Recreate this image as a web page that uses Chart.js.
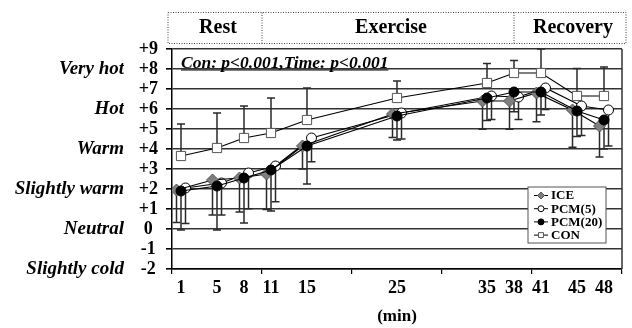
<!DOCTYPE html>
<html><head><meta charset="utf-8">
<script src="https://cdn.jsdelivr.net/npm/chart.js@4.4.1/dist/chart.umd.min.js"></script>
<style>html,body{margin:0;padding:0;background:#fff}#wrap{width:632px;height:328px}</style>
</head><body><div id="wrap"><canvas id="c" width="632" height="328"></canvas></div>
<script>
// ---- data ----
const TIMES = [1, 5, 8, 11, 15, 25, 35, 38, 41, 45, 48];
const X_TICK_LABELS = ['1', '5', '8', '11', '15', '25', '35', '38', '41', '45', '48'];
const SENSATION_VALUES = [-2, 0, 2, 4, 6, 8];
const SENSATION_LABELS = ['Slightly cold', 'Neutral', 'Slightly warm', 'Warm', 'Hot', 'Very hot'];
const PHASES = ['Rest', 'Exercise', 'Recovery'];
const PHASE_BOUNDS = [0, 10, 38, 50];
const STATS_TEXT = 'Con: p<0.001,Time: p<0.001';

const ICE      = [1.95, 2.45, 2.55, 2.75, 4.15, 5.75, 6.40, 6.40, 6.80, 5.95, 5.15];
const ICE_SD   = [1.63, 1.75, 1.70, 1.77, 1.15, 1.17, 1.41, 1.41, 1.44, 1.86, 1.55];
const PCM5     = [2.05, 2.30, 2.80, 3.15, 4.55, 5.80, 6.65, 6.60, 7.05, 6.15, 5.95];
const PCM5_SD  = [1.77, 1.60, 1.79, 1.79, 1.19, 1.30, 1.17, 1.12, 1.08, 1.48, 1.80];
const PCM20    = [1.90, 2.15, 2.55, 2.95, 4.15, 5.65, 6.55, 6.85, 6.85, 5.90, 5.45];
const PCM20_SD = [1.95, 2.20, 2.25, 2.05, 1.90, 1.20, 1.12, 0.99, 1.15, 1.28, 1.45];
const CON      = [3.65, 4.05, 4.55, 4.80, 5.45, 6.55, 7.30, 7.80, 7.80, 6.65, 6.65];
const CON_SD   = [1.60, 1.75, 1.60, 1.75, 1.60, 0.85, 0.97, 0.63, 1.20, 1.37, 1.45];

// small horizontal jitter (minutes) so overlapping series stay visible
const SHIFT = { ICE: -0.5, PCM5: 0.5, PCM20: 0, CON: 0 };

const FONT = '"Liberation Serif", "Times New Roman", serif';

function pts(vals, shift) { return TIMES.map((t, i) => ({ x: t + shift, y: vals[i] })); }

const errorBars = {
  id: 'errorBars',
  beforeDatasetsDraw(chart) {
    const ctx = chart.ctx, ys = chart.scales.y;
    chart.data.datasets.forEach((ds, i) => {
      const meta = chart.getDatasetMeta(i);
      ctx.save();
      ctx.strokeStyle = '#2a2a2a'; ctx.lineWidth = 1.5;
      meta.data.forEach((pt, j) => {
        const v = ds.data[j].y + ds.errors[j] * ds.errorDir;
        const y2 = ys.getPixelForValue(v);
        ctx.beginPath();
        ctx.moveTo(pt.x, pt.y); ctx.lineTo(pt.x, y2);
        ctx.moveTo(pt.x - 4, y2); ctx.lineTo(pt.x + 4, y2);
        ctx.stroke();
      });
      ctx.restore();
    });
  }
};

const decor = {
  id: 'decor',
  afterDraw(chart) {
    const ctx = chart.ctx, a = chart.chartArea, xs = chart.scales.x;
    ctx.save();
    // right frame
    ctx.strokeStyle = '#333'; ctx.lineWidth = 1.5;
    ctx.beginPath(); ctx.moveTo(a.right, a.top); ctx.lineTo(a.right, a.bottom); ctx.stroke();

    // header boxes
    const top = 12.5, bot = 43.5;
    const edges = PHASE_BOUNDS.map(v => xs.getPixelForValue(v));
    edges[0] -= 4; edges[edges.length - 1] += 4;
    ctx.setLineDash([1, 1.5]); ctx.lineWidth = 1; ctx.strokeStyle = '#444';
    ctx.strokeRect(edges[0], top, edges[3] - edges[0], bot - top);
    ctx.beginPath();
    for (let k = 1; k < edges.length - 1; k++) { ctx.moveTo(edges[k], top); ctx.lineTo(edges[k], bot); }
    ctx.stroke();
    ctx.setLineDash([]);
    ctx.fillStyle = '#000'; ctx.font = 'bold 20px ' + FONT;
    ctx.textAlign = 'center'; ctx.textBaseline = 'middle';
    PHASES.forEach((p, k) => ctx.fillText(p, (edges[k] + edges[k + 1]) / 2 + 3, (top + bot) / 2));

    // statistics note
    ctx.font = 'italic bold 17.5px ' + FONT;
    ctx.textAlign = 'left'; ctx.textBaseline = 'alphabetic';
    const tx = a.left + 9, ty = a.top + 18.5;
    ctx.fillText(STATS_TEXT, tx, ty);
    const w = ctx.measureText(STATS_TEXT).width;
    ctx.lineWidth = 1.2; ctx.strokeStyle = '#000';
    ctx.beginPath(); ctx.moveTo(tx, ty + 2.5); ctx.lineTo(tx + w, ty + 2.5); ctx.stroke();

    // legend
    const lx = a.right - 94, ly = a.bottom - 82, lw = 78, lh = 56;
    ctx.fillStyle = '#fff'; ctx.fillRect(lx, ly, lw, lh);
    ctx.strokeStyle = '#555'; ctx.lineWidth = 1; ctx.strokeRect(lx, ly, lw, lh);
    ctx.font = 'bold 13px ' + FONT; ctx.textBaseline = 'middle';
    chart.data.datasets.forEach((ds, i) => {
      const yy = ly + 8.5 + i * 13.2;
      ctx.strokeStyle = '#000'; ctx.lineWidth = 1;
      ctx.beginPath(); ctx.moveTo(lx + 6, yy); ctx.lineTo(lx + 20, yy); ctx.stroke();
      ctx.fillStyle = ds.pointBackgroundColor; ctx.strokeStyle = ds.pointBorderColor;
      Chart.helpers.drawPoint(ctx, { pointStyle: ds.pointStyle, radius: ds.pointStyle === 'circle' ? 3 : 3.5, rotation: 0, borderWidth: 1 }, lx + 13, yy);
      ctx.fillStyle = '#000';
      ctx.fillText(ds.label, lx + 23, yy + 0.5);
    });
    ctx.restore();
  }
};

const common = { borderColor: '#000', borderWidth: 1.2, tension: 0, fill: false, pointBorderWidth: 1 };

new Chart(document.getElementById('c'), {
  type: 'line',
  data: {
    datasets: [
      Object.assign({}, common, { label: 'ICE', data: pts(ICE, SHIFT.ICE), errors: ICE_SD, errorDir: -1,
        pointStyle: 'rectRot', pointRadius: 6, pointBackgroundColor: '#7f7f7f', pointBorderColor: '#555', order: 1 }),
      Object.assign({}, common, { label: 'PCM(5)', data: pts(PCM5, SHIFT.PCM5), errors: PCM5_SD, errorDir: -1,
        pointStyle: 'circle', pointRadius: 5, pointBackgroundColor: '#fff', pointBorderColor: '#000', order: 2 }),
      Object.assign({}, common, { label: 'PCM(20)', data: pts(PCM20, SHIFT.PCM20), errors: PCM20_SD, errorDir: -1,
        pointStyle: 'circle', pointRadius: 5, pointBackgroundColor: '#000', pointBorderColor: '#000', order: 0 }),
      Object.assign({}, common, { label: 'CON', data: pts(CON, SHIFT.CON), errors: CON_SD, errorDir: 1,
        pointStyle: 'rect', pointRadius: 6.5, pointBackgroundColor: '#fff', pointBorderColor: '#555', order: 3 })
    ]
  },
  options: {
    responsive: false, animation: false, devicePixelRatio: 1,
    layout: { padding: { top: 49, right: 10, bottom: 0, left: 0 } },
    plugins: { legend: { display: false }, tooltip: { enabled: false } },
    scales: {
      x: {
        type: 'linear', position: 'bottom', min: 0, max: 50, weight: 0,
        ticks: { display: false, stepSize: 10 },
        grid: { drawOnChartArea: false, tickLength: 5, tickColor: '#000', lineWidth: 1.2 },
        border: { color: '#000', width: 1.5 }
      },
      xl: {
        type: 'linear', position: 'bottom', min: 0, max: 50, weight: 1,
        afterBuildTicks: s => { s.ticks = TIMES.map(v => ({ value: v })); },
        ticks: { autoSkip: false, maxRotation: 0, padding: 5, color: '#000',
          font: { family: FONT, size: 18, weight: 'bold', lineHeight: 1 },
          callback: (v, i) => X_TICK_LABELS[i] },
        grid: { display: false, drawTicks: false, tickLength: 0 }, border: { display: false },
        title: { display: true, text: '(min)', color: '#000',
          font: { family: FONT, size: 17, weight: 'bold', lineHeight: 1 }, padding: { top: 6, bottom: 3 } }
      },
      y: {
        type: 'linear', position: 'left', min: -2, max: 9, weight: 0,
        afterFit: s => { s.width = 48; },
        ticks: { stepSize: 1, autoSkip: false, crossAlign: 'center', padding: 8, color: '#000',
          font: { family: FONT, size: 18, weight: 'bold' },
          callback: v => (v > 0 ? '+' + v : String(v)) },
        grid: { color: '#333', lineWidth: 1.6, tickLength: 6, tickColor: '#000' },
        border: { color: '#000', width: 1.5 }
      },
      yd: {
        type: 'linear', position: 'left', min: -2, max: 9, weight: 1,
        afterFit: s => { s.width = 124; },
        afterBuildTicks: s => { s.ticks = SENSATION_VALUES.map(v => ({ value: v })); },
        ticks: { autoSkip: false, padding: 0, color: '#000', font: { family: FONT, size: 19, weight: 'bold', style: 'italic' },
          callback: v => SENSATION_LABELS[SENSATION_VALUES.indexOf(v)] },
        grid: { display: false, drawTicks: false, tickLength: 0 }, border: { display: false }
      }
    }
  },
  plugins: [errorBars, decor]
});
</script>
</body></html>
